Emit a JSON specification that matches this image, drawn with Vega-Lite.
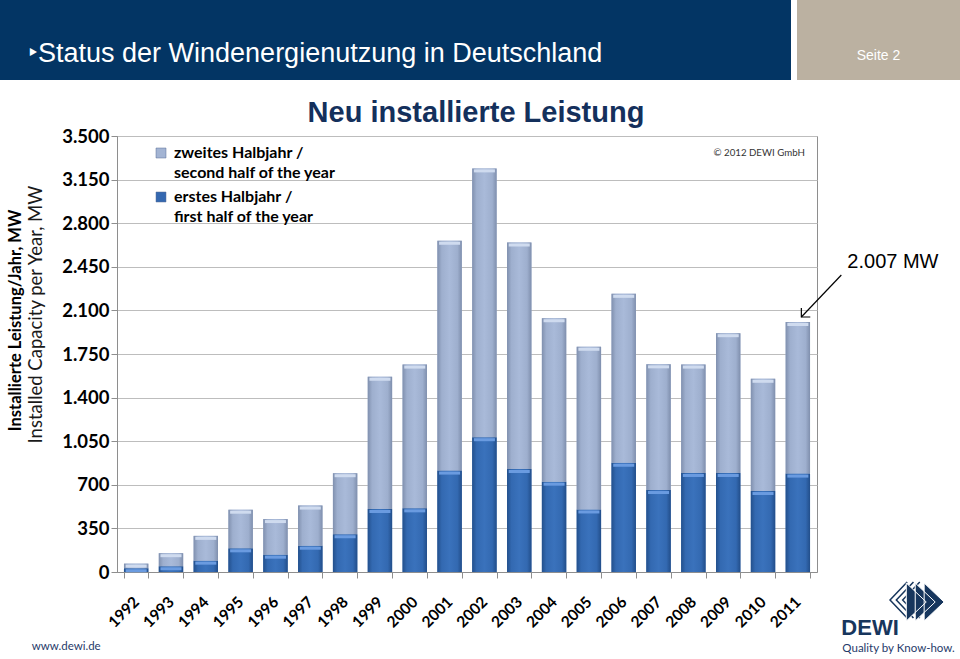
{
  "$schema": "https://vega.github.io/schema/vega-lite/v6.json",
  "background": "white",
  "padding": 0,
  "spacing": 18,
  "config": {
    "view": {"stroke": null},
    "style": {"guide-label": {"lineHeight": 19.5}}
  },
  "resolve": {"scale": {"color": "independent"}, "legend": {"color": "independent"}},
  "vconcat": [
    {
      "spacing": 6,
      "hconcat": [
        {
          "width": 791,
          "height": 80,
          "view": {"fill": "#033564", "stroke": null},
          "title": {"text": "‣Status der Windenergienutzung in Deutschland", "anchor": "start", "frame": "group", "orient": "top", "offset": 0, "dx": 28, "dy": 89, "baseline": "alphabetic", "font": "Liberation Sans", "fontSize": 27, "fontWeight": "normal", "color": "white"},
          "data": {"values": []},
          "mark": "text"
        },
        {
          "width": 163,
          "height": 80,
          "view": {"fill": "#bbb1a1", "stroke": null},
          "title": {"text": "Seite 2", "anchor": "middle", "frame": "group", "orient": "top", "offset": 0, "dy": 74, "baseline": "alphabetic", "font": "Liberation Sans", "fontSize": 14, "fontWeight": "normal", "color": "white"},
          "data": {"values": []},
          "mark": "text"
        }
      ]
    },
    {
      "spacing": 5,
      "resolve": {"scale": {"color": "independent"}, "legend": {"color": "independent"}},
      "hconcat": [
        {"width": 1, "height": 1, "data": {"values": []}, "mark": "text"},
        {
          "width": 700,
          "height": 436,
          "view": {"stroke": "#8e8e8e", "strokeWidth": 1},
          "title": {"text": "Neu installierte Leistung", "font": "Liberation Sans", "fontSize": 29, "fontWeight": "bold", "color": "#14305c", "anchor": "middle", "dx": 9, "offset": -24, "baseline": "alphabetic"},
          "data": {"values": [
            {"year": "1992", "half": "erstes", "mw": 30}, {"year": "1992", "half": "zweites", "mw": 37},
            {"year": "1993", "half": "erstes", "mw": 46}, {"year": "1993", "half": "zweites", "mw": 105},
            {"year": "1994", "half": "erstes", "mw": 91}, {"year": "1994", "half": "zweites", "mw": 199},
            {"year": "1995", "half": "erstes", "mw": 190}, {"year": "1995", "half": "zweites", "mw": 310},
            {"year": "1996", "half": "erstes", "mw": 139}, {"year": "1996", "half": "zweites", "mw": 286},
            {"year": "1997", "half": "erstes", "mw": 211}, {"year": "1997", "half": "zweites", "mw": 322},
            {"year": "1998", "half": "erstes", "mw": 303}, {"year": "1998", "half": "zweites", "mw": 490},
            {"year": "1999", "half": "erstes", "mw": 506}, {"year": "1999", "half": "zweites", "mw": 1061},
            {"year": "2000", "half": "erstes", "mw": 511}, {"year": "2000", "half": "zweites", "mw": 1154},
            {"year": "2001", "half": "erstes", "mw": 814}, {"year": "2001", "half": "zweites", "mw": 1845},
            {"year": "2002", "half": "erstes", "mw": 1082}, {"year": "2002", "half": "zweites", "mw": 2158},
            {"year": "2003", "half": "erstes", "mw": 827}, {"year": "2003", "half": "zweites", "mw": 1818},
            {"year": "2004", "half": "erstes", "mw": 725}, {"year": "2004", "half": "zweites", "mw": 1312},
            {"year": "2005", "half": "erstes", "mw": 502}, {"year": "2005", "half": "zweites", "mw": 1306},
            {"year": "2006", "half": "erstes", "mw": 877}, {"year": "2006", "half": "zweites", "mw": 1356},
            {"year": "2007", "half": "erstes", "mw": 658}, {"year": "2007", "half": "zweites", "mw": 1009},
            {"year": "2008", "half": "erstes", "mw": 795}, {"year": "2008", "half": "zweites", "mw": 870},
            {"year": "2009", "half": "erstes", "mw": 795}, {"year": "2009", "half": "zweites", "mw": 1122},
            {"year": "2010", "half": "erstes", "mw": 650}, {"year": "2010", "half": "zweites", "mw": 901},
            {"year": "2011", "half": "erstes", "mw": 790}, {"year": "2011", "half": "zweites", "mw": 1217}
          ]},
          "encoding": {
            "x": {"field": "year", "type": "ordinal", "scale": {"paddingInner": 0.3, "paddingOuter": 0.2},
              "axis": {"title": null, "labelAngle": -45, "labelAlign": "right", "labelBaseline": "middle", "labelFont": "Lato", "labelFontSize": 15.5, "labelFontWeight": "bold", "labelColor": "black", "labelPadding": 21, "tickBand": "extent", "tickColor": "#8e8e8e", "tickSize": 6, "domainColor": "#8e8e8e", "grid": false}}
          },
          "layer": [
            {
              "mark": {"type": "bar"},
              "encoding": {
                "y": {"field": "mw", "type": "quantitative", "stack": "zero", "scale": {"domain": [0, 3500], "nice": false},
                  "axis": {"orient": "left", "title": "Installed Capacity per Year, MW", "titleFont": "Lato", "titleFontSize": 18.5, "titleFontWeight": "normal", "titleColor": "#1a1a1a", "titlePadding": 16, "titleY": 178, "labelFont": "Lato", "labelFontSize": 18.5, "labelFontWeight": "bold", "labelColor": "black", "labelPadding": 2, "values": [0, 350, 700, 1050, 1400, 1750, 2100, 2450, 2800, 3150, 3500], "labelExpr": "replace(format(datum.value, ','), ',', '.')", "grid": true, "gridColor": "#bdbdbd", "tickColor": "#8e8e8e", "tickSize": 6, "domainColor": "#8e8e8e"}},
                "color": {"field": "half", "type": "nominal", "scale": {"domain": ["zweites", "erstes"], "range": ["#a3b4d3", "#3468b0"]},
                  "legend": {"title": null, "orient": "none", "legendX": 36, "legendY": 1, "symbolType": "M-1,0.6H1V2.6H-1Z", "symbolSize": 100, "symbolStrokeColor": "#5a6f95", "symbolStrokeWidth": 0.5, "labelFont": "Lato", "labelFontSize": 16, "labelFontWeight": "bold", "labelColor": "black", "labelBaseline": "top", "labelOffset": 5, "labelLimit": 300, "rowPadding": 0, "padding": 0,
                    "labelExpr": "datum.label == 'zweites' ? ['zweites Halbjahr /', 'second half of the year'] : ['erstes Halbjahr /', 'first half of the year']"}},
                "order": {"field": "half", "sort": "ascending"}
              }
            },
            {
              "mark": {"type": "bar"},
              "encoding": {
                "y": {"field": "mw", "type": "quantitative", "stack": "zero",
                  "axis": {"orient": "left", "title": "Installierte Leistung/Jahr, MW", "titleFont": "Lato", "titleFontSize": 16.5, "titleFontWeight": "bold", "titleColor": "black", "titleY": 184, "labels": false, "ticks": false, "domain": false, "grid": false, "titlePadding": 94}},
                "detail": {"field": "half"},
                "order": {"field": "half", "sort": "ascending"},
                "color": {
                  "condition": {"test": "datum.half === 'erstes'", "value": {"gradient": "linear", "x1": 0, "x2": 1, "y1": 0, "y2": 0, "stops": [{"offset": 0, "color": "#23508c"}, {"offset": 0.18, "color": "#3369b1"}, {"offset": 0.5, "color": "#3a72bc"}, {"offset": 0.82, "color": "#3369b1"}, {"offset": 1, "color": "#224e8a"}]}},
                  "value": {"gradient": "linear", "x1": 0, "x2": 1, "y1": 0, "y2": 0, "stops": [{"offset": 0, "color": "#8090ae"}, {"offset": 0.18, "color": "#9eafce"}, {"offset": 0.5, "color": "#a9bad9"}, {"offset": 0.82, "color": "#9eafce"}, {"offset": 1, "color": "#7f8fad"}]}
                }
              }
            },
            {
              "mark": {"type": "tick", "thickness": 3, "size": 21, "yOffset": 2.5, "opacity": 1},
              "encoding": {
                "y": {"field": "mw", "type": "quantitative", "stack": "zero", "axis": null},
                "detail": {"field": "half"},
                "order": {"field": "half", "sort": "ascending"},
                "color": {"condition": {"test": "datum.half === 'erstes'", "value": "#6a9be0"}, "value": "#cfdbef"}
              }
            },
            {
              "data": {"values": [{"year": "2011", "mw": 2007}]},
              "mark": {"type": "rule", "color": "black", "strokeWidth": 1.2, "xOffset": 3.5, "x2Offset": 43.5, "yOffset": -5, "y2Offset": -47},
              "encoding": {"x": {"field": "year", "type": "ordinal"}, "x2": {"field": "year"}, "y": {"field": "mw", "type": "quantitative", "axis": null}, "y2": {"field": "mw"}}
            },
            {
              "data": {"values": [{"year": "2011", "mw": 2007}]},
              "mark": {"type": "point", "shape": "M-1,1L0,0L1,1", "filled": false, "stroke": "black", "strokeWidth": 1.2, "size": 160, "angle": 225, "opacity": 1, "xOffset": 3.5, "yOffset": -5},
              "encoding": {"x": {"field": "year", "type": "ordinal"}, "y": {"field": "mw", "type": "quantitative", "axis": null}}
            },
            {
              "data": {"values": [{"year": "2011", "mw": 2007, "label": "2.007 MW"}]},
              "mark": {"type": "text", "align": "left", "baseline": "middle", "dx": 49.5, "dy": -60, "font": "Liberation Sans", "fontSize": 20, "color": "black"},
              "encoding": {"x": {"field": "year", "type": "ordinal"}, "y": {"field": "mw", "type": "quantitative", "axis": null}, "text": {"field": "label"}}
            },
            {
              "data": {"values": [{"t": "© 2012 DEWI GmbH"}]},
              "mark": {"type": "text", "align": "right", "baseline": "middle", "dx": 7, "dy": 17, "font": "Lato", "fontSize": 9.7, "color": "#333333"},
              "encoding": {"x": {"datum": "2011"}, "y": {"datum": 3500, "axis": null}, "text": {"field": "t"}}
            },
            {
              "data": {"values": [{"t": "www.dewi.de"}]},
              "mark": {"type": "text", "align": "left", "baseline": "middle", "dx": -104.5, "dy": 75, "font": "Lato", "fontSize": 11.5, "color": "#1f3a6a"},
              "encoding": {"x": {"datum": "1992"}, "y": {"datum": 0, "axis": null}, "text": {"field": "t"}}
            },
            {
              "data": {"values": [{"t": "logo"}]},
              "mark": {"type": "point", "shape": "M0.35,-1L-0.6,0L0.35,1M0.7,-1L-0.25,0L0.7,1M1.05,-1L0.1,0L1.05,1", "filled": false, "stroke": "#17365d", "strokeWidth": 1.5, "size": 1300, "opacity": 1, "xOffset": 103, "yOffset": 28},
              "encoding": {"x": {"datum": "2011"}, "y": {"datum": 0, "axis": null}}
            },
            {
              "data": {"values": [{"t": "logo"}]},
              "mark": {"type": "point", "shape": "M-0.95,-1L0.1,0L-0.95,1ZM-0.48,-1L0.57,0L-0.48,1ZM-0.01,-1L1.04,0L-0.01,1Z", "filled": true, "fill": "#17365d", "stroke": "white", "strokeWidth": 1, "size": 1444, "opacity": 1, "xOffset": 126.5, "yOffset": 30},
              "encoding": {"x": {"datum": "2011"}, "y": {"datum": 0, "axis": null}}
            },
            {
              "data": {"values": [{"t": "DEWI"}]},
              "mark": {"type": "text", "align": "left", "baseline": "alphabetic", "dx": 43.5, "dy": 63, "font": "Liberation Sans Narrow, Liberation Sans", "fontSize": 22, "fontWeight": "bold", "color": "#17365d"},
              "encoding": {"x": {"datum": "2011"}, "y": {"datum": 0, "axis": null}, "text": {"field": "t"}}
            },
            {
              "data": {"values": [{"t": "Quality by Know-how."}]},
              "mark": {"type": "text", "align": "left", "baseline": "middle", "dx": 44.5, "dy": 77, "font": "Lato", "fontSize": 11.5, "color": "#1f3a6a"},
              "encoding": {"x": {"datum": "2011"}, "y": {"datum": 0, "axis": null}, "text": {"field": "t"}}
            }
          ],
          "resolve": {"axis": {"y": "independent"}}
        }
      ]
    }
  ]
}
